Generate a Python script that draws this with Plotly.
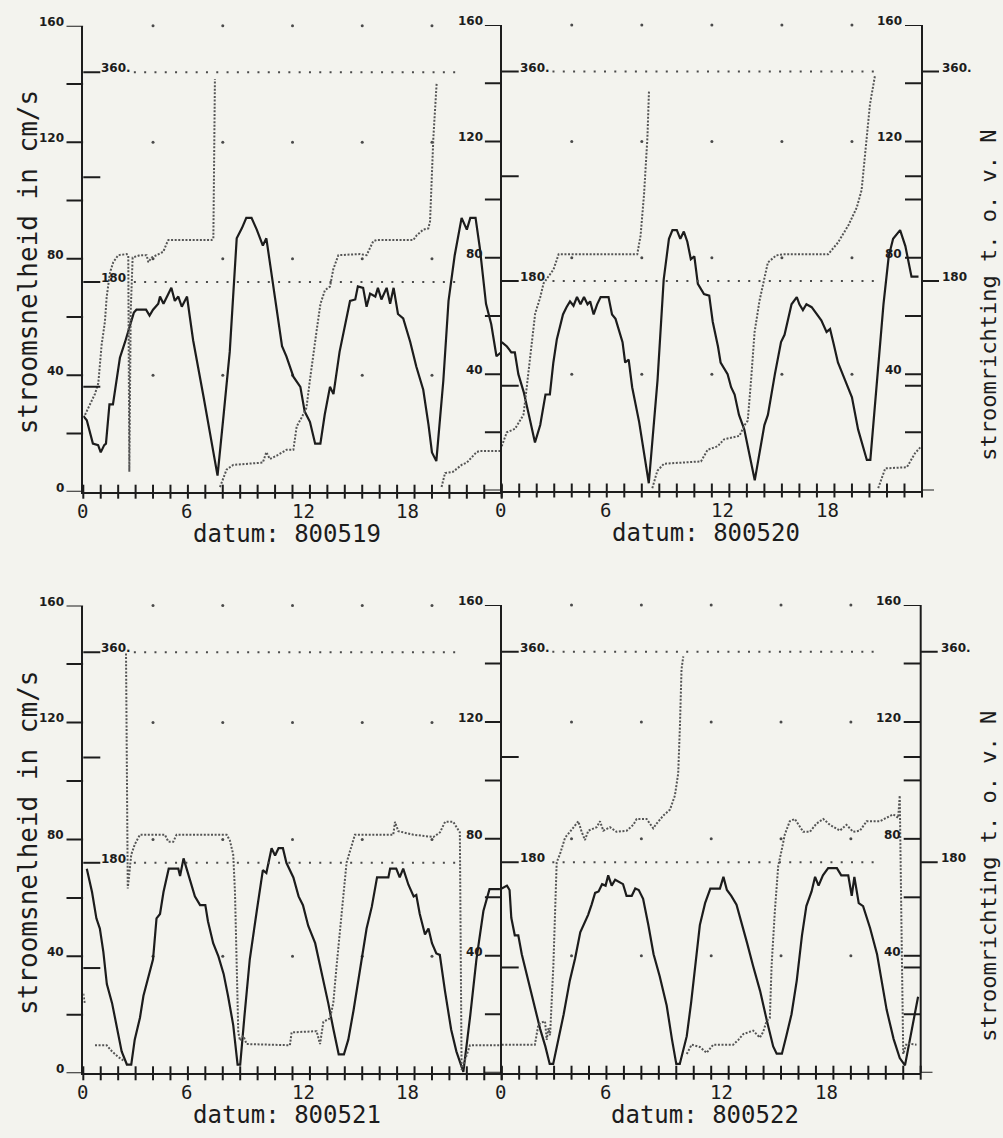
import plotly.graph_objects as go

W, H = 1003, 1138
BG = "#f3f3ee"
INK = "#1c1c1c"
DOT = "#4a4a4a"
MONO = "DejaVu Sans Mono"
LBL = "DejaVu Sans"

DATES = ["800519", "800520", "800521", "800522"]
HOURS = list(range(25))
X_LABELS = [0, 6, 12, 18]
GRID_HOURS = [4, 8, 12, 16, 20]
GRID_SPEEDS = [40, 80, 120, 160]
REF_DIRS = [180, 360]
REF_SPAN = [2.9, 21.4]
SPEED_TICKS = [0, 20, 40, 60, 80, 100, 120, 140, 160]
SPEED_LABELS = [0, 40, 80, 120, 160]
DIR_MINOR = [90, 270]
DIR_LABELS = {180: "180", 360: "360."}

# (hour, speed cm/s)
SPEED_800519 = [(0.0,26),(0.2,24.5),(0.55,16.5),(0.85,16),(1.0,13.5),(1.2,16),(1.3,16.5),(1.5,30),(1.7,30),
    (1.9,38),(2.1,46),(2.4,51.5),(2.7,57.5),(2.9,61.5),(3.05,62.5),(3.6,62.5),(3.8,60.5),(4.0,62.5),(4.3,64.5),
    (4.4,67),(4.6,64.5),(4.8,67),(5.05,70),(5.25,65.5),(5.45,67),(5.65,63.5),(5.95,67),(6.1,60.5),(6.3,52),
    (6.9,32.5),(7.35,17),(7.7,5.5),(8.05,26.5),(8.4,48),(8.8,87),(9.1,90.5),(9.35,94),(9.65,94),(9.95,90),
    (10.15,87),(10.3,84.5),(10.5,87),(10.7,78.5),(11.1,62),(11.4,50),(11.65,46.5),(12.05,39.5),(12.45,36),
    (12.7,27.5),(13.0,24),(13.3,16.5),(13.6,16.5),(13.85,26.5),(14.15,36),(14.35,33.5),(14.7,48),(15.0,56.5),
    (15.3,65.5),(15.6,66),(15.75,70.5),(16.05,70),(16.25,63.5),(16.45,68),(16.75,67),(16.9,70),(17.1,66),
    (17.4,70),(17.6,64.5),(17.8,70),(18.05,61),(18.35,59.5),(18.75,51.5),(19.1,43),(19.5,35),(19.8,23),
    (20.0,13.5),(20.25,10.5),(20.65,38),(20.95,65.5),(21.3,81),(21.7,94),(22.0,90),(22.2,94),(22.5,94),
    (22.75,83.5),(23.1,64.5),(23.4,57.5),(23.7,46.5),(24.0,48)]

SPEED_800520 = [(0.0,51),(0.3,49.5),(0.55,47.5),(0.75,47.5),(0.95,40),(1.25,34),(1.55,26),(1.9,16.5),(2.2,22.5),
    (2.5,33),(2.75,33),(2.95,44),(3.15,52),(3.35,57),(3.5,60.5),(3.7,63),(3.9,65),(4.1,63.5),(4.3,66.5),(4.5,64),
    (4.7,66.5),(4.9,64),(5.05,65),(5.25,60.5),(5.45,64),(5.65,66.5),(6.1,66.5),(6.3,60.5),(6.5,59),(6.9,51),
    (7.05,44),(7.25,45),(7.45,35.5),(7.85,23.5),(8.4,2.5),(8.9,38),(9.25,72.5),(9.55,86.5),(9.75,89.5),(10.0,89.5),
    (10.2,86.5),(10.4,89),(10.6,85.5),(10.8,79.5),(11.0,80.5),(11.2,71),(11.55,67.5),(11.85,67),(12.05,58),
    (12.35,49.5),(12.5,44),(12.9,40),(13.1,35.5),(13.3,33),(13.55,26),(13.85,21),(14.45,3.5),(15.0,22.5),
    (15.2,26),(15.6,40),(15.95,51),(16.15,53.5),(16.35,59),(16.55,64),(16.85,66.5),(17.0,64),(17.2,62),(17.4,64),
    (17.7,63),(17.95,61),(18.25,58.5),(18.55,54.5),(18.75,55.5),(18.95,50.5),(19.2,44),(19.6,38),(20.0,32),
    (20.35,21),(20.85,10.5),(21.05,10.5),(21.5,41.5),(21.8,64),(22.1,80.5),(22.35,86.5),(22.75,89.5),
    (23.05,84),(23.4,73.5),(23.8,73.5)]

SPEED_800521 = [(0.2,70),(0.5,62),(0.75,53),(0.95,49.5),(1.15,41.5),(1.35,30.5),(1.65,24),(1.9,16.5),(2.2,7.5),
    (2.5,3),(2.75,3),(2.95,11.5),(3.25,19),(3.45,26.5),(3.75,33),(4.0,39),(4.2,53),(4.4,54.5),(4.6,62),(4.9,70),
    (5.45,70),(5.55,67.5),(5.75,73.5),(5.95,69.5),(6.1,66),(6.4,60.5),(6.7,57.5),(7.0,57.5),(7.15,52),(7.45,44.5),
    (7.75,40),(8.05,34),(8.3,26.5),(8.6,16.5),(8.85,3),(9.0,3),(9.25,20),(9.55,39),(9.95,55.5),(10.3,69.5),
    (10.5,68.5),(10.8,77),(11.0,74.5),(11.2,77),(11.45,77),(11.65,72),(12.05,67),(12.35,60.5),(12.6,57.5),
    (12.9,50.5),(13.3,44.5),(13.6,36.5),(13.85,29),(14.05,24),(14.35,15),(14.65,6.5),(14.95,6.5),(15.2,11.5),
    (15.5,21.5),(15.75,30.5),(15.95,39),(16.25,49.5),(16.55,57),(16.85,67),(17.5,67),(17.6,70),(17.95,70),
    (18.15,67),(18.35,70),(18.65,64.5),(18.95,60.5),(19.1,61),(19.3,54.5),(19.6,47.5),(19.8,49.5),(20.0,44.5),
    (20.25,41),(20.45,40.5),(20.75,28),(21.1,15),(21.4,7.5),(21.8,0.5),(22.2,20),(22.55,39),(22.95,55.5),
    (23.3,63),(23.9,63)]

SPEED_800522 = [(0.0,63),(0.3,64),(0.45,62.5),(0.55,53),(0.75,47),(0.95,47),(1.15,40.5),(1.45,33),(1.8,24),
    (2.2,15),(2.5,9),(2.75,3),(2.95,3),(3.25,11.5),(3.55,20),(3.9,31.5),(4.2,39),(4.5,48),(4.7,50.5),(4.95,54),
    (5.15,57.5),(5.35,61.5),(5.55,62),(5.65,63),(5.75,64.5),(5.95,64),(6.1,67.5),(6.3,64),(6.5,66),(6.95,64.5),
    (7.15,60.5),(7.45,60.5),(7.65,63),(7.85,62.5),(8.1,59.5),(8.4,50.5),(8.7,40.5),(9.05,33),(9.45,23),
    (9.75,11.5),(10.0,3),(10.2,3),(10.6,12.5),(10.85,24),(11.15,39),(11.35,50.5),(11.65,58),(11.95,63),
    (12.5,63),(12.7,67),(12.9,62.5),(13.15,60.5),(13.45,57.5),(13.75,50.5),(14.05,44.5),(14.4,36.5),(14.8,28),
    (15.2,17.5),(15.55,9),(15.75,6.5),(16.05,6.5),(16.3,12.5),(16.6,20),(16.9,31.5),(17.2,47),(17.45,57),
    (17.75,62),(17.95,67),(18.15,64),(18.4,67.5),(18.7,70),(19.2,70),(19.45,67.5),(19.85,67.5),(20.05,60.5),
    (20.2,67),(20.45,58),(20.7,57),(21.1,49.5),(21.5,40.5),(21.75,31.5),(22.05,21.5),(22.45,11.5),(22.8,5),
    (23.1,2.5),(23.5,15),(23.85,26)]

# (hour, direction in degrees from N); (None, None) = pen lifted
DIR_800519 = [(0.1,66),(0.38,75),(0.67,84),(0.86,93),(1.05,126),(1.24,146),(1.34,167),(1.53,188),(1.72,197),
    (2.0,203),(2.49,204),(2.58,203),(2.64,17),(2.72,155),(2.83,201),(3.25,203),(3.63,203),(3.73,197),(3.92,201),
    (4.2,203),(4.59,206),(4.78,213),(4.88,216),(5.54,216),(7.36,216),(7.46,217),(7.55,354),(None,None),
    (7.84,4),(8.22,19),(8.6,23),(10.3,25),(10.5,34),(10.7,28),(11.1,31),(11.4,34),(11.66,36),(12.05,36),
    (12.24,56),(12.5,63),(12.8,72),(13.0,96),(13.2,120),(13.4,140),(13.6,161),(13.86,173),(14.15,176),
    (14.34,191),(14.63,203),(15.87,204),(16.25,203),(16.44,209),(16.63,215),(16.83,216),(18.93,216),
    (19.12,220),(19.5,225),(19.79,226),(19.89,232),(20.08,304),(20.27,351),(None,None),(20.55,4),(20.75,16),
    (21.2,17),(21.7,23),(22.0,25),(22.56,34),(22.75,35),(23.9,35)]

DIR_800520 = [(0.0,38),(0.29,50),(0.76,53),(1.24,65),(1.34,77),(1.53,100),(1.72,127),(1.91,152),(2.2,166),
    (2.39,178),(2.68,184),(2.96,190),(3.25,203),(7.74,203),(7.93,219),(8.13,255),(8.32,303),(8.41,343),
    (None,None),(8.6,2),(8.89,17),(9.27,23),(11.38,25),(11.76,35),(12.33,38),(12.7,44),(13.58,47),(13.86,56),
    (14.05,60),(14.24,95),(14.44,136),(14.72,163),(15.0,184),(15.2,196),(15.68,202),(16.06,203),(18.64,203),
    (19.2,213),(19.8,228),(20.27,243),(20.55,258),(20.84,303),(21.03,332),(21.32,357),(None,None),(21.5,2),
    (21.9,19),(23.14,20),(23.6,32),(23.9,37)]

DIR_800521 = [(0.0,68),(0.08,60),(None,None),(0.67,24),(1.34,24),(1.63,19),(2.0,14),(2.3,11),(2.39,11),
    (None,None),(2.45,359),(2.5,190),(2.55,158),(2.75,187),(2.96,196),(3.25,204),(4.68,204),(4.88,198),
    (5.16,198),(5.35,204),(8.22,204),(8.41,199),(8.6,187),(8.7,155),(8.8,92),(8.89,35),(8.99,28),(9.18,32),
    (9.37,25),(11.85,24),(11.95,35),(13.38,36),(13.58,25),(13.77,44),(14.15,47),(14.34,60),(14.53,92),
    (14.72,123),(14.91,155),(15.1,180),(15.3,190),(15.58,204),(17.78,204),(17.88,215),(18.07,207),(18.93,204),
    (20.08,202),(20.46,206),(20.75,215),(21.22,215),(21.6,206),(21.7,3),(22.0,16),(22.18,24),(23.9,24)]

DIR_800522 = [(0.0,24),(1.9,24),(2.1,41),(2.3,43),(2.48,44),(2.58,28),(2.67,38),(2.77,32),(2.96,92),(3.05,139),
    (3.15,180),(3.34,187),(3.63,201),(3.91,206),(4.2,212),(4.39,215),(4.58,206),(4.77,199),(4.96,207),
    (5.44,210),(5.63,215),(5.82,207),(6.2,210),(6.58,206),(7.16,207),(7.54,212),(7.73,217),(8.3,217),(8.68,209),
    (8.87,213),(9.26,220),(9.64,225),(9.92,237),(10.11,256),(10.21,297),(10.3,345),(10.4,356),(None,None),
    (10.6,16),(10.88,24),(11.35,22),(11.74,17),(12.12,24),(13.26,24),(13.55,28),(13.84,33),(14.4,36),
    (14.79,30),(14.98,35),(15.17,44),(15.36,47),(15.46,92),(15.65,139),(15.84,177),(16.03,190),(16.22,204),
    (16.5,215),(16.79,217),(17.27,206),(17.65,206),(18.03,213),(18.42,217),(18.8,212),(19.37,207),(19.75,212),
    (20.13,206),(20.52,207),(20.9,215),(21.66,215),(22.23,220),(22.42,221),(22.71,218),(22.8,237),(22.9,123),
    (23.0,16),(23.19,25),(23.76,24)]

SPEEDS = [SPEED_800519, SPEED_800520, SPEED_800521, SPEED_800522]
DIRS = [DIR_800519, DIR_800520, DIR_800521, DIR_800522]

# panel frames in pixels: left, right, top(160), bottom(0)
PANELS = [
    dict(x0=83.3, x1=501.7, yt=25.7, yb=491.7, right=False),
    dict(x0=501.7, x1=922.0, yt=25.0, yb=490.5, right=True),
    dict(x0=83.3, x1=501.7, yt=605.5, yb=1073.3, right=False),
    dict(x0=501.7, x1=920.7, yt=605.0, yb=1072.7, right=True),
]
TL = 17  # tick length in px

lblfont = dict(family=LBL, size=12, color=INK, weight="bold")
axcommon = dict(showgrid=False, zeroline=False, fixedrange=True, showticklabels=False, ticks="")

fig = go.Figure()
layout = dict(width=W, height=H, margin=dict(l=0, r=0, t=0, b=0), paper_bgcolor=BG,
              plot_bgcolor="rgba(0,0,0,0)", showlegend=False, annotations=[], shapes=[])
ann = layout["annotations"]
shp = layout["shapes"]
LINE = dict(color=INK, width=2)


def tick(xname, yref, side, yval, a, b):
    # pixel-long horizontal tick anchored on the left (side=0) or right (side=1) frame edge
    shp.append(dict(type="line", xref=xname + " domain", yref=yref, xsizemode="pixel", xanchor=side,
                    x0=a, x1=b, y0=yval, y1=yval, line=LINE))


strip_axis = 5
for i, p in enumerate(PANELS):
    n = i + 1
    sfx = "" if n == 1 else str(n)
    xname, yname = "x" + sfx, "y" + sfx
    dname = "y" + str(n + 4)      # direction scale 0..400 (360 deg at 144)
    ydom = [1 - p["yb"] / H, 1 - p["yt"] / H]
    layout["xaxis" + sfx] = dict(domain=[p["x0"] / W, p["x1"] / W], range=[0, 24], anchor=yname,
                                 showline=True, linecolor=INK, linewidth=2, **axcommon)
    layout["yaxis" + sfx] = dict(domain=ydom, range=[0, 160], anchor=xname, side="left", showline=True,
                                 linecolor=INK, linewidth=2, **axcommon)
    layout["yaxis" + str(n + 4)] = dict(overlaying=yname, anchor=xname, side="left", range=[0, 400],
                                        showline=False, **axcommon)

    # outward speed ticks: a narrow strip sub-axis just left of the frame, spanning one tick length
    sname = "x" + str(strip_axis)
    layout["xaxis" + str(strip_axis)] = dict(domain=[(p["x0"] - TL) / W, p["x0"] / W], range=[-1, 0],
                                             anchor=yname, visible=False, fixedrange=True)
    strip_axis += 1
    tx, ty = [], []
    for v in SPEED_TICKS:
        tx += [-1, 0, None]
        ty += [v, v, None]
    fig.add_trace(go.Scatter(x=tx, y=ty, xaxis=sname, yaxis=yname, mode="lines", line=LINE,
                             cliponaxis=False, hoverinfo="skip"))

    # inward direction ticks on the left frame
    for d in DIR_MINOR + list(DIR_LABELS):
        tick(xname, dname, 0, d, 0, TL)
    for v in SPEED_LABELS:
        if p["right"] and v == 0:
            continue
        ann.append(dict(x=0, y=v, xref=xname, yref=yname, text=str(v), showarrow=False,
                        xanchor="right", yanchor="middle", xshift=-TL, yshift=4, font=lblfont))
    for d, t in DIR_LABELS.items():
        ann.append(dict(x=0, y=d, xref=xname, yref=dname, text=t, showarrow=False,
                        xanchor="left", yanchor="middle", xshift=TL - 1, yshift=4, font=lblfont))
    if p["right"]:
        shp.append(dict(type="line", xref=xname + " domain", yref=dname + " domain",
                        x0=1, x1=1, y0=0, y1=1, line=LINE))
        for v in SPEED_TICKS[1:]:
            tick(xname, dname, 1, v * 2.5, -TL, 0)
        for d in DIR_MINOR:
            tick(xname, dname, 1, d, -TL, 0)
        for d in DIR_LABELS:
            tick(xname, dname, 1, d, 0, TL)
        # short extension of the time axis beyond the right frame
        rname = "x" + str(strip_axis)
        layout["xaxis" + str(strip_axis)] = dict(domain=[p["x1"] / W, (p["x1"] + 12) / W], range=[0, 1],
                                                 anchor=yname, visible=False, fixedrange=True)
        strip_axis += 1
        fig.add_trace(go.Scatter(x=[0, 1], y=[0, 0], xaxis=rname, yaxis=yname, mode="lines", line=LINE,
                                 cliponaxis=False, hoverinfo="skip"))
        for v in SPEED_LABELS[1:]:
            ann.append(dict(x=24, y=v, xref=xname, yref=yname, text=str(v), showarrow=False,
                            xanchor="right", yanchor="middle", xshift=-TL - 1, yshift=4, font=lblfont))
        for d, t in DIR_LABELS.items():
            ann.append(dict(x=24, y=d, xref=xname, yref=dname, text=t, showarrow=False,
                            xanchor="left", yanchor="middle", xshift=TL + 1, yshift=4, font=lblfont))

    # grid dots
    gx = [h for s in GRID_SPEEDS for h in GRID_HOURS]
    gy = [s for s in GRID_SPEEDS for h in GRID_HOURS]
    fig.add_trace(go.Scatter(x=gx, y=gy, xaxis=xname, yaxis=yname, mode="markers",
                             marker=dict(size=3, color=DOT), cliponaxis=False, hoverinfo="skip"))
    # reference direction lines 180 / 360
    for d in REF_DIRS:
        fig.add_trace(go.Scatter(x=REF_SPAN, y=[d, d], xaxis=xname, yaxis=dname, mode="lines",
                                 line=dict(color=DOT, width=2, dash="2px,8.3px"), hoverinfo="skip"))
    # hour tick marks crossing the time axis
    fig.add_trace(go.Scatter(x=HOURS, y=[0] * len(HOURS), xaxis=xname, yaxis=yname, mode="markers",
                             marker=dict(symbol="line-ns", size=10, line=dict(width=2, color=INK)),
                             cliponaxis=False, hoverinfo="skip"))
    # direction (dotted)
    dh = [t[0] for t in DIRS[i]]
    dv = [t[1] for t in DIRS[i]]
    fig.add_trace(go.Scatter(x=dh, y=dv, xaxis=xname, yaxis=dname, mode="lines", connectgaps=False,
                             line=dict(color="#555555", width=2, dash="2px,1.6px"), cliponaxis=False))
    # speed (solid)
    sh = [t[0] for t in SPEEDS[i]]
    sv = [t[1] for t in SPEEDS[i]]
    fig.add_trace(go.Scatter(x=sh, y=sv, xaxis=xname, yaxis=yname, mode="lines",
                             line=dict(color=INK, width=2.2), cliponaxis=False))

    # time tick labels
    for v in X_LABELS:
        ann.append(dict(x=v, y=0, xref=xname, yref=yname, text=str(v), showarrow=False,
                        yshift=-19, yanchor="middle", xanchor="center" if v < 10 else "left",
                        xshift=-1 if v < 10 else -3, font=dict(family=MONO, size=19, color=INK)))
    # date title
    cx = (p["x0"] + p["x1"]) / 2 - 6
    ann.append(dict(x=cx / W, y=1 - (p["yb"] + 42) / H, xref="paper", yref="paper",
                    text="datum: " + DATES[i], showarrow=False, xanchor="center", yanchor="middle",
                    font=dict(family=MONO, size=24, color=INK)))
    if not p["right"]:
        ann.append(dict(x=28 / W, y=1 - ((p["yt"] + p["yb"]) / 2 + 3.5) / H, xref="paper", yref="paper",
                        text="stroomsnelheid in cm/s", textangle=-90, showarrow=False,
                        xanchor="center", yanchor="middle", font=dict(family=MONO, size=26, color=INK)))
    else:
        ann.append(dict(x=989 / W, y=1 - ((p["yt"] + p["yb"]) / 2 + 38) / H, xref="paper", yref="paper",
                        text="stroomrichting t. o. v. N", textangle=-90, showarrow=False,
                        xanchor="center", yanchor="middle", font=dict(family=MONO, size=22, color=INK)))

fig.update_layout(**layout)
fig.write_html("out.html", config={"displayModeBar": False},
               post_script="document.body.style.margin='0';document.body.style.background='%s';" % BG)
